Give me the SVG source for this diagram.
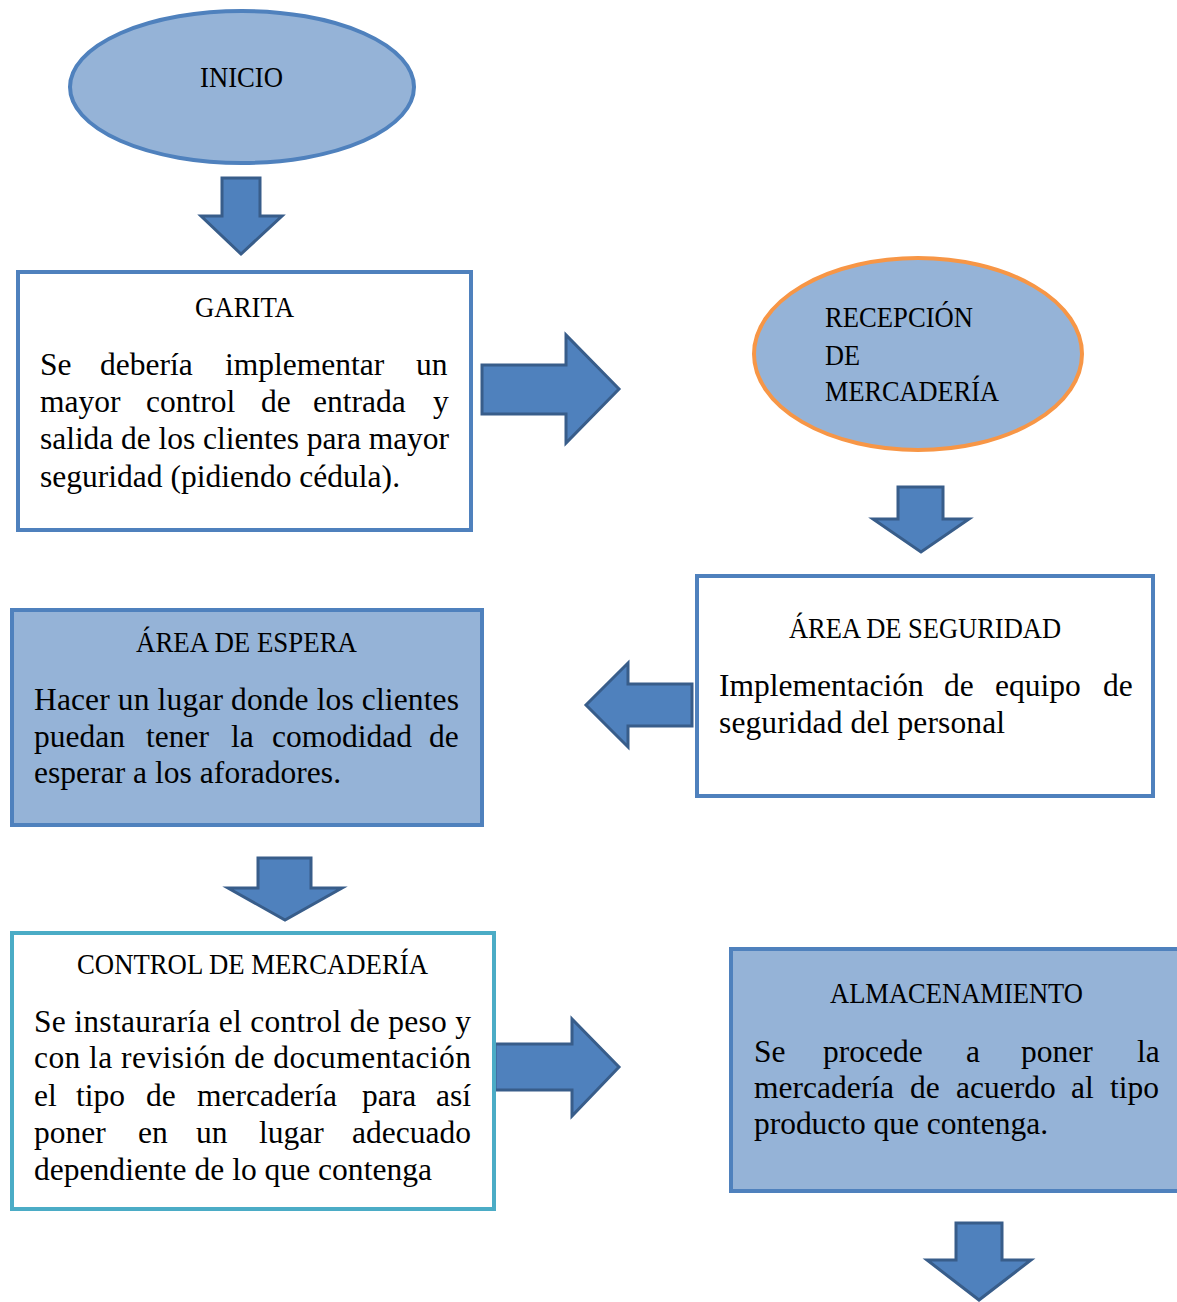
<svg xmlns="http://www.w3.org/2000/svg" width="1177" height="1302" viewBox="0 0 1177 1302">
<style>
.t{font-family:"Liberation Serif","DejaVu Serif",serif;fill:#000}
.ti{font-size:30px}
.b{font-size:31.5px}
.box{stroke:#4F81BD;stroke-width:4}
.fill{fill:#95B3D7}
.white{fill:#FFFFFF}
.arr{fill:#4F81BD;stroke:#385D8A;stroke-width:3;stroke-linejoin:miter}
</style>
<rect width="1177" height="1302" fill="#FFFFFF"/>
<g id="connectors">
<polygon class="arr" points="222,178 260,178 260,216 282,216 241,254 201,216 222,216"/>
<polygon class="arr" points="482,365 566,365 566,335 619,389 566,443 566,414 482,414"/>
<polygon class="arr" points="898,487 943,487 943,519 969,519 921,552 873,519 898,519"/>
<polygon class="arr" points="692,684 628,684 628,663 586,705 628,747 628,726 692,726"/>
<polygon class="arr" points="258,858 311,858 311,888 342,888 285,920 228,888 258,888"/>
<polygon class="arr" points="495,1044 572,1044 572,1019 619,1067 572,1116 572,1090 495,1090"/>
<polygon class="arr" points="956,1223 1002,1223 1002,1260 1031,1260 979,1300 927,1260 956,1260"/>
</g>
<g id="inicio">
<ellipse cx="242" cy="87" rx="172" ry="76" class="fill box"/>
<text class="t ti" x="200" y="87" textLength="83" lengthAdjust="spacingAndGlyphs">INICIO</text>
</g>
<g id="garita">
<rect x="18" y="272" width="453" height="258" class="white box"/>
<text class="t ti" x="195" y="317" textLength="99" lengthAdjust="spacingAndGlyphs">GARITA</text>
<text class="t b" y="375"><tspan x="40">Se</tspan><tspan x="100">debería</tspan><tspan x="225">implementar</tspan><tspan x="416">un</tspan></text>
<text class="t b" y="412"><tspan x="40">mayor</tspan><tspan x="146">control</tspan><tspan x="261">de</tspan><tspan x="313">entrada</tspan><tspan x="433">y</tspan></text>
<text class="t b" x="40" y="449" textLength="409">salida de los clientes para mayor</text>
<text class="t b" x="40" y="487" textLength="360">seguridad (pidiendo cédula).</text>
</g>
<g id="recepcion">
<ellipse cx="918" cy="354" rx="164" ry="96" class="fill" stroke="#F79646" stroke-width="4"/>
<text class="t ti" x="825" y="327" textLength="148" lengthAdjust="spacingAndGlyphs">RECEPCIÓN</text>
<text class="t ti" x="825" y="365" textLength="35" lengthAdjust="spacingAndGlyphs">DE</text>
<text class="t ti" x="825" y="401" textLength="174" lengthAdjust="spacingAndGlyphs">MERCADERÍA</text>
</g>
<g id="area-seguridad">
<rect x="697" y="576" width="456" height="220" class="white box"/>
<text class="t ti" x="789" y="638" textLength="272" lengthAdjust="spacingAndGlyphs">ÁREA DE SEGURIDAD</text>
<text class="t b" y="696"><tspan x="719">Implementación</tspan><tspan x="944">de</tspan><tspan x="995">equipo</tspan><tspan x="1103">de</tspan></text>
<text class="t b" x="719" y="733" textLength="286">seguridad del personal</text>
</g>
<g id="area-espera">
<rect x="12" y="610" width="470" height="215" class="fill box"/>
<text class="t ti" x="136" y="652" textLength="221" lengthAdjust="spacingAndGlyphs">ÁREA DE ESPERA</text>
<text class="t b" x="34" y="710" textLength="425">Hacer un lugar donde los clientes</text>
<text class="t b" y="747"><tspan x="34">puedan</tspan><tspan x="146">tener</tspan><tspan x="231">la</tspan><tspan x="272">comodidad</tspan><tspan x="429">de</tspan></text>
<text class="t b" x="34" y="783" textLength="307">esperar a los aforadores.</text>
</g>
<g id="control-mercaderia">
<rect x="12" y="933" width="482" height="276" fill="#FFFFFF" stroke="#4BACC6" stroke-width="4"/>
<text class="t ti" x="77" y="974" textLength="351" lengthAdjust="spacingAndGlyphs">CONTROL DE MERCADERÍA</text>
<text class="t b" x="34" y="1032" textLength="437">Se instauraría el control de peso y</text>
<text class="t b" x="34" y="1068" textLength="437">con la revisión de documentación</text>
<text class="t b" y="1106"><tspan x="34">el</tspan><tspan x="76">tipo</tspan><tspan x="146">de</tspan><tspan x="197">mercadería</tspan><tspan x="362">para</tspan><tspan x="436">así</tspan></text>
<text class="t b" y="1143"><tspan x="34">poner</tspan><tspan x="138">en</tspan><tspan x="196">un</tspan><tspan x="259">lugar</tspan><tspan x="352">adecuado</tspan></text>
<text class="t b" x="34" y="1180" textLength="398">dependiente de lo que contenga</text>
</g>
<g id="almacenamiento">
<rect x="731" y="949" width="470" height="242" class="fill box"/>
<text class="t ti" x="830" y="1003" textLength="253" lengthAdjust="spacingAndGlyphs">ALMACENAMIENTO</text>
<text class="t b" y="1062"><tspan x="754">Se</tspan><tspan x="823">procede</tspan><tspan x="966">a</tspan><tspan x="1021">poner</tspan><tspan x="1137">la</tspan></text>
<text class="t b" y="1098"><tspan x="754">mercadería</tspan><tspan x="910">de</tspan><tspan x="956">acuerdo</tspan><tspan x="1071">al</tspan><tspan x="1110">tipo</tspan></text>
<text class="t b" x="754" y="1134" textLength="294">producto que contenga.</text>
</g>
</svg>
